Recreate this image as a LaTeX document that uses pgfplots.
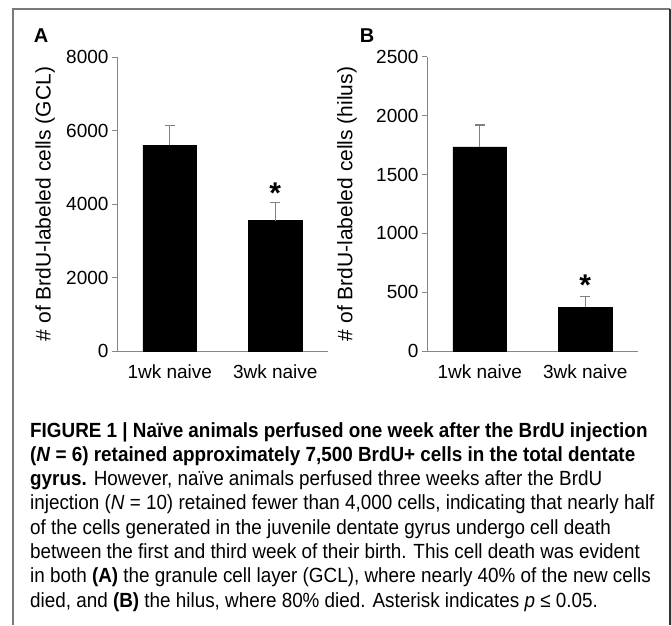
\documentclass[border=0pt]{standalone}
\usepackage{fontspec}
\setmainfont{Liberation Sans}
\newfontfamily\capfont{Liberation Sans}[FakeStretch=0.92]
\usepackage{pgfplots}
\pgfplotsset{compat=1.18}
\definecolor{axisgray}{HTML}{868686}
\definecolor{errgray}{HTML}{808080}
\definecolor{framegray}{HTML}{7A7A7A}
\pgfplotsset{panel/.style={
  scale only axis, width=211pt, height=294pt,
  xmin=0.5, xmax=2.5, ymin=0,
  axis x line*=bottom, axis y line*=left,
  axis line style={draw=axisgray, line width=1pt},
  xtick={1,2}, xticklabels={1wk naive,3wk naive},
  x tick style={draw=none},
  xticklabel style={yshift=-5pt},
  y tick style={draw=axisgray, line width=1pt},
  tick align=outside, major tick length=5pt,
  ytick pos=left,
  tick label style={font=\fontsize{19}{21}\selectfont},
  /pgf/number format/assume math mode=true,
  /pgf/number format/1000 sep={},
  scaled y ticks=false,
  ylabel style={font=\fontsize{21}{23}\selectfont},
  clip=false,
}}
\begin{document}
\begin{tikzpicture}
\useasboundingbox (0pt,0pt) rectangle (671pt,625pt);
\fill[white] (0pt,0pt) rectangle (671pt,625pt);
% frame
\draw[framegray, line width=2pt] (13pt,0pt) -- (13pt,616pt) -- (670pt,616pt);
\draw[black!80, line width=1.5pt] (670pt,616pt) -- (670pt,0pt);
% panel A
\begin{axis}[panel, at={(117pt,274pt)}, anchor=south west,
  ymax=8000, ytick={0,2000,4000,6000,8000},
  ylabel={\# of BrdU-labeled cells (GCL)},
  every axis y label/.append style={at={(axis description cs:-0.34,0.5)}, anchor=center}]
\addplot[ybar, bar width=0.51, fill=black, draw=black,
  error bars/.cd, y dir=plus, y explicit,
  error bar style={errgray, line width=1.2pt},
  error mark options={errgray, line width=1.2pt, rotate=90, mark size=5pt}]
  coordinates {(1,5605) +- (0,526) (2,3546) +- (0,490)};
\node[anchor=north, inner sep=0pt, font=\bfseries\fontsize{30}{32}\selectfont] at (axis cs:2,4571) {*};
\end{axis}
% panel B
\begin{axis}[panel, at={(427pt,274pt)}, anchor=south west,
  ymax=2500, ytick={0,500,1000,1500,2000,2500},
  ylabel={\# of BrdU-labeled cells (hilus)},
  every axis y label/.append style={at={(axis description cs:-0.38,0.5)}, anchor=center}]
\addplot[ybar, bar width=0.51, fill=black, draw=black,
  error bars/.cd, y dir=plus, y explicit,
  error bar style={errgray, line width=1.2pt},
  error mark options={errgray, line width=1.2pt, rotate=90, mark size=5pt}]
  coordinates {(1,1735) +- (0,187) (2,374) +- (0,88)};
\node[anchor=north, inner sep=0pt, font=\bfseries\fontsize{30}{32}\selectfont] at (axis cs:2,646) {*};
\end{axis}
% panel letters
\node[font=\bfseries\fontsize{20}{22}\selectfont] at (41pt,589pt) {A};
\node[font=\bfseries\fontsize{20}{22}\selectfont] at (367pt,589pt) {B};
% caption
\begin{scope}[every node/.style={anchor=base west, inner sep=0pt, font=\capfont\fontsize{20.5}{24}\selectfont}]
\node at (30pt,188pt) {\textbf{FIGURE 1 | Naïve animals perfused one week after the BrdU injection}};
\node at (30pt,163.7pt) {\textbf{(\textit{N} = 6) retained approximately 7,500 BrdU+ cells in the total dentate}};
\node at (30pt,139.4pt) {\textbf{gyrus.} However, naïve animals perfused three weeks after the BrdU};
\node at (30pt,115.1pt) {injection (\textit{N} = 10) retained fewer than 4,000 cells, indicating that nearly half};
\node at (30pt,90.8pt) {of the cells generated in the juvenile dentate gyrus undergo cell death};
\node at (30pt,66.5pt) {between the first and third week of their birth. This cell death was evident};
\node at (30pt,42.2pt) {in both \textbf{(A)} the granule cell layer (GCL), where nearly 40\% of the new cells};
\node at (30pt,17.9pt) {died, and \textbf{(B)} the hilus, where 80\% died. Asterisk indicates \textit{p} ≤ 0.05.};
\end{scope}
\end{tikzpicture}
\end{document}
